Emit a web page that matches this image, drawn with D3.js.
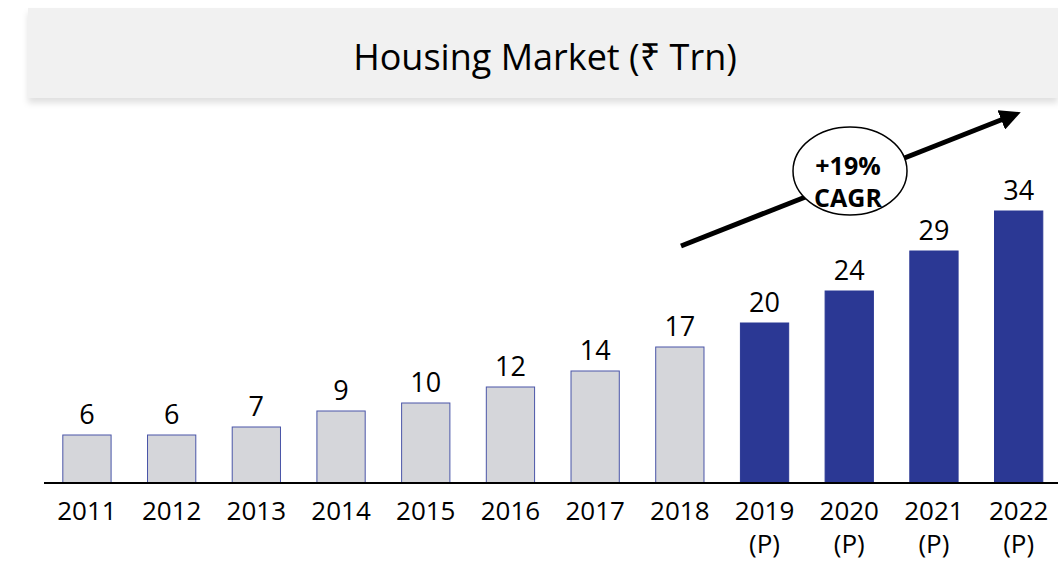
<!DOCTYPE html>
<html>
<head>
<meta charset="utf-8">
<script src="https://cdn.jsdelivr.net/npm/d3@7"></script>
<style>
  body { margin: 0; background: #fff; }
  svg { display: block; font-family: "Open Sans", "Noto Sans", sans-serif; }
</style>
</head>
<body>
<div id="chart"></div>
<script>
// chart data
const years = ['2011', '2012', '2013', '2014', '2015', '2016', '2017', '2018', '2019', '2020', '2021', '2022'];
const values = [6, 6, 7, 9, 10, 12, 14, 17, 20, 24, 29, 34];
const projected = [false, false, false, false, false, false, false, false, true, true, true, true];
const title = 'Housing Market (₹ Trn)';
const cagrLines = ['+19%', 'CAGR'];

const width = 1058;
const height = 564;
const baseline = 483;

const svg = d3.select('#chart')
    .append('svg')
    .attr('width', width)
    .attr('height', height)
    .attr('viewBox', [0, 0, width, height]);

// drop shadow for the title banner
const defs = svg.append('defs');
const shadow = defs.append('filter')
    .attr('id', 'banner-shadow')
    .attr('x', '-5%').attr('y', '-20%')
    .attr('width', '110%').attr('height', '150%');
shadow.append('feDropShadow')
    .attr('dx', 0).attr('dy', 5)
    .attr('stdDeviation', 3)
    .attr('flood-color', '#000')
    .attr('flood-opacity', 0.12);

defs.append('marker')
    .attr('id', 'arrow-head')
    .attr('viewBox', '0 0 10 10')
    .attr('refX', 5).attr('refY', 5)
    .attr('markerWidth', 4.2).attr('markerHeight', 4.2)
    .attr('orient', 'auto')
    .append('path')
    .attr('d', 'M0,0 L10,5 L0,10 Z')
    .attr('fill', '#000');

// banner
svg.append('rect')
    .attr('x', 28)
    .attr('y', 8)
    .attr('width', width - 28)
    .attr('height', 90)
    .attr('fill', '#f1f1f1')
    .attr('filter', 'url(#banner-shadow)');

svg.append('text')
    .attr('x', 545)
    .attr('y', 70)
    .attr('text-anchor', 'middle')
    .style('font-size', '36px')
    .attr('fill', '#000')
    .text(title);

// scales
const x = d3.scaleBand()
    .domain(years)
    .range([44.6, 44.6 + 84.7 * years.length])
    .paddingInner(0.43)
    .paddingOuter(0.215);

const y = d3.scaleLinear()
    .domain([0, 34])
    .range([baseline, baseline - 272]);

// bars
svg.append('g')
    .selectAll('rect')
    .data(years)
    .join('rect')
    .attr('x', d => x(d))
    .attr('y', (d, i) => y(values[i]))
    .attr('width', x.bandwidth())
    .attr('height', (d, i) => baseline - y(values[i]))
    .attr('fill', (d, i) => projected[i] ? '#2b3894' : '#d5d6da')
    .attr('stroke', (d, i) => projected[i] ? '#2b3894' : '#4a55a8')
    .attr('stroke-width', 1);

// value labels
svg.append('g')
    .selectAll('text')
    .data(years)
    .join('text')
    .attr('x', d => x(d) + x.bandwidth() / 2)
    .attr('y', (d, i) => y(values[i]) - 11)
    .attr('text-anchor', 'middle')
    .style('font-size', '27px')
    .attr('fill', '#000')
    .text((d, i) => values[i]);

// axis line
svg.append('line')
    .attr('x1', 44)
    .attr('x2', width)
    .attr('y1', baseline)
    .attr('y2', baseline)
    .attr('stroke', '#000')
    .attr('stroke-width', 2);

// year labels, projected years get a second "(P)" line
const labelG = svg.append('g')
    .attr('text-anchor', 'middle')
    .style('font-size', '26px')
    .attr('fill', '#000');

labelG.selectAll('text.year')
    .data(years)
    .join('text')
    .attr('class', 'year')
    .attr('x', d => x(d) + x.bandwidth() / 2)
    .attr('y', 520)
    .text(d => d);

labelG.selectAll('text.proj')
    .data(years.filter((d, i) => projected[i]))
    .join('text')
    .attr('class', 'proj')
    .attr('x', d => x(d) + x.bandwidth() / 2)
    .attr('y', 553)
    .text('(P)');

// CAGR arrow
svg.append('line')
    .attr('x1', 681)
    .attr('y1', 246)
    .attr('x2', 1011)
    .attr('y2', 116)
    .attr('stroke', '#000')
    .attr('stroke-width', 5)
    .attr('marker-end', 'url(#arrow-head)');

svg.append('ellipse')
    .attr('cx', 850)
    .attr('cy', 171)
    .attr('rx', 57)
    .attr('ry', 44)
    .attr('fill', '#fff')
    .attr('stroke', '#000')
    .attr('stroke-width', 1.5);

svg.append('g')
    .selectAll('text')
    .data(cagrLines)
    .join('text')
    .attr('x', 848)
    .attr('y', (d, i) => 175 + i * 32)
    .attr('text-anchor', 'middle')
    .style('font-size', '25px')
    .style('font-weight', 'bold')
    .attr('fill', '#000')
    .text(d => d);
</script>
</body>
</html>
